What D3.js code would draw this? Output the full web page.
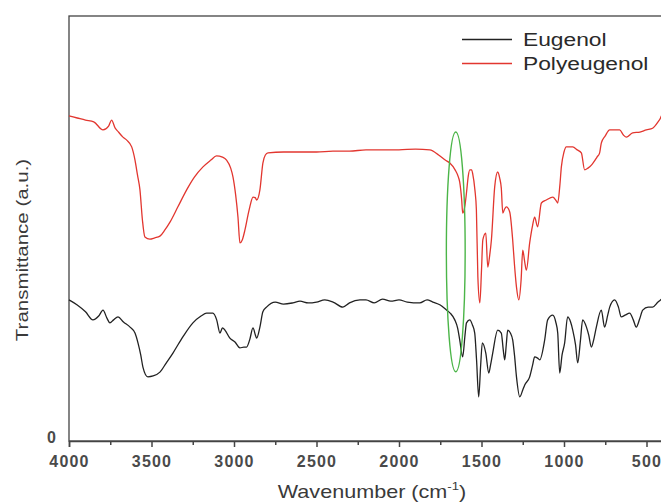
<!DOCTYPE html>
<html>
<head>
<meta charset="utf-8">
<script src="https://cdnjs.cloudflare.com/ajax/libs/d3/7.8.5/d3.min.js"></script>
<style>
  html, body { margin: 0; padding: 0; background: #fff; }
  svg { display: block; font-family: "Liberation Sans", Arial, sans-serif; }
</style>
</head>
<body>
<div id="chart"></div>
<script>
// FTIR spectra, wavenumber (cm-1) vs transmittance (arbitrary units)
const eugenolWave = [4000, 3950, 3900, 3855, 3820, 3794, 3770, 3752, 3730, 3703, 3670, 3630, 3600, 3582, 3565, 3552, 3522, 3490, 3449, 3410, 3370, 3310, 3249, 3200, 3166, 3128, 3105, 3085, 3070, 3055, 3025, 2994, 2964, 2940, 2924, 2905, 2885, 2870, 2863, 2843, 2825, 2803, 2750, 2700, 2643, 2600, 2550, 2500, 2450, 2400, 2340, 2300, 2237, 2200, 2150, 2100, 2050, 2000, 1950, 1874, 1830, 1795, 1750, 1712, 1690, 1662, 1645, 1632, 1614, 1600, 1591, 1571, 1555, 1541, 1530, 1517, 1505, 1495, 1474, 1456, 1445, 1432, 1402, 1380, 1368, 1359, 1350, 1341, 1325, 1311, 1300, 1288, 1268, 1250, 1238, 1208, 1190, 1178, 1160, 1147, 1117, 1099, 1068, 1050, 1038, 1026, 1012, 996, 978, 960, 947, 930, 917, 900, 887, 864, 850, 834, 820, 804, 774, 754, 735, 723, 693, 670, 653, 630, 602, 580, 562, 540, 523, 490, 463, 430, 415, 400];
const eugenolT = [33.2, 32.0, 30.4, 28.5, 29.4, 30.8, 28.9, 27.8, 28.5, 29.2, 28.0, 26.8, 25.4, 23.1, 20.2, 17.4, 15.1, 15.3, 16.2, 18.4, 20.7, 24.5, 27.8, 29.4, 30.1, 30.1, 28.5, 25.4, 26.6, 26.1, 24.2, 23.3, 21.9, 22.1, 22.1, 23.8, 26.6, 24.9, 24.2, 26.8, 30.4, 31.5, 32.7, 32.2, 32.5, 32.9, 32.5, 32.7, 33.2, 32.7, 31.5, 32.5, 33.2, 33.2, 32.5, 33.4, 32.9, 33.2, 32.7, 32.5, 33.2, 32.7, 32.0, 30.8, 30.1, 28.5, 26.6, 23.8, 19.8, 24.9, 27.8, 28.5, 27.3, 25.4, 19.1, 10.4, 17.9, 23.1, 20.7, 16.0, 17.9, 20.7, 26.1, 25.4, 21.4, 19.1, 22.6, 26.1, 25.4, 23.8, 20.2, 15.1, 10.4, 12.0, 13.2, 15.1, 17.9, 19.8, 19.5, 19.1, 23.8, 28.5, 29.6, 28.0, 25.4, 16.0, 20.2, 23.1, 29.2, 28.0, 26.1, 22.6, 18.4, 23.8, 28.5, 26.8, 24.9, 22.1, 23.8, 26.8, 30.8, 26.8, 29.6, 31.5, 33.2, 31.5, 29.2, 29.6, 30.1, 28.5, 26.8, 28.9, 30.8, 31.5, 31.5, 32.7, 33.2, 33.6];

const polyWave = [4000, 3950, 3900, 3850, 3794, 3760, 3742, 3720, 3700, 3673, 3650, 3620, 3600, 3585, 3570, 3555, 3540, 3510, 3480, 3449, 3420, 3388, 3340, 3287, 3240, 3188, 3140, 3106, 3070, 3045, 3020, 3006, 2990, 2976, 2964, 2950, 2934, 2915, 2904, 2885, 2870, 2863, 2843, 2825, 2810, 2794, 2700, 2600, 2500, 2400, 2300, 2200, 2100, 2000, 1900, 1813, 1760, 1720, 1692, 1660, 1640, 1632, 1620, 1614, 1600, 1591, 1580, 1571, 1560, 1553, 1540, 1531, 1522, 1510, 1500, 1492, 1474, 1462, 1450, 1440, 1420, 1402, 1390, 1380, 1371, 1360, 1349, 1329, 1311, 1300, 1288, 1274, 1260, 1250, 1238, 1228, 1208, 1190, 1178, 1160, 1137, 1107, 1068, 1050, 1038, 1025, 1016, 1000, 986, 947, 920, 895, 875, 855, 834, 800, 784, 774, 750, 723, 663, 640, 622, 584, 540, 501, 463, 430, 415, 400];
const polyT = [76.5, 76.0, 75.5, 75.1, 73.2, 74.1, 75.5, 73.6, 72.7, 71.5, 70.8, 69.2, 66.1, 62.6, 59.1, 52.0, 48.0, 47.5, 47.8, 48.2, 49.6, 51.5, 55.1, 59.1, 62.1, 64.5, 66.1, 67.1, 66.8, 66.1, 64.2, 62.1, 57.9, 52.7, 46.6, 47.3, 49.6, 53.2, 55.1, 57.4, 57.2, 56.7, 59.1, 65.4, 67.3, 67.8, 68.0, 68.0, 68.0, 68.2, 68.2, 68.5, 68.5, 68.5, 68.7, 68.5, 67.3, 66.1, 65.4, 63.8, 62.1, 60.9, 56.7, 53.6, 55.5, 58.4, 62.4, 63.8, 63.8, 62.8, 59.1, 54.4, 38.6, 32.5, 40.2, 47.3, 48.9, 40.9, 43.8, 47.3, 59.8, 63.3, 61.9, 59.5, 53.6, 54.6, 55.1, 53.9, 47.3, 41.4, 36.2, 33.2, 37.9, 44.9, 42.1, 40.2, 46.6, 50.8, 52.7, 50.4, 56.0, 56.7, 57.4, 56.7, 56.0, 60.2, 64.5, 68.0, 69.2, 69.2, 68.5, 67.8, 63.8, 64.2, 64.9, 66.8, 67.8, 70.1, 71.8, 73.2, 73.2, 72.0, 71.5, 72.5, 72.7, 73.2, 73.6, 75.1, 76.0, 77.4];

const seriesNames = ["Eugenol", "Polyeugenol"];
const seriesColors = ["#222222", "#e2362f"];
const majorTicks = [4000, 3500, 3000, 2500, 2000, 1500, 1000, 500];
const minorTicks = [3750, 3250, 2750, 2250, 1750, 1250, 750];

// highlighted band around the C=C stretch
const markCenter = [1656, 44.5];
const markRadius = [57, 28.2];

const width = 661, height = 504;
const margin = { top: 16, right: -2, bottom: 63, left: 69 };

const svg = d3.select("#chart").append("svg")
  .attr("width", width)
  .attr("height", height);

const x = d3.scaleLinear()
  .domain([4000, 400])
  .range([margin.left, width - margin.right]);

const y = d3.scaleLinear()
  .domain([0, 100])
  .range([height - margin.bottom, margin.top]);

// frame
svg.append("rect")
  .attr("x", x(4000))
  .attr("y", y(100))
  .attr("width", x(400) - x(4000))
  .attr("height", y(0) - y(100))
  .attr("fill", "none")
  .attr("stroke", "#444")
  .attr("stroke-width", 1.3);

// x axis: major and minor ticks
const xAxis = svg.append("g")
  .attr("transform", `translate(0,${y(0)})`)
  .call(d3.axisBottom(x).tickValues(majorTicks).tickSize(6).tickPadding(9).tickFormat(d3.format("d")));
xAxis.select(".domain").attr("stroke", "#444").attr("stroke-width", 1.5);
xAxis.selectAll(".tick line").attr("stroke", "#444").attr("stroke-width", 1.5);
xAxis.selectAll(".tick text")
  .attr("fill", "#4a4a4a")
  .attr("font-size", 16)
  .attr("font-weight", "bold")
  .attr("letter-spacing", 1.2);

const xMinor = svg.append("g")
  .attr("transform", `translate(0,${y(0)})`)
  .call(d3.axisBottom(x).tickValues(minorTicks).tickSize(4).tickFormat(""));
xMinor.select(".domain").remove();
xMinor.selectAll(".tick line").attr("stroke", "#444").attr("stroke-width", 1.5);

// y axis: only zero is labelled
const yAxis = svg.append("g")
  .attr("transform", `translate(${x(4000)},0)`)
  .call(d3.axisLeft(y).tickValues([0]).tickSize(0).tickPadding(13));
yAxis.select(".domain").remove();
yAxis.selectAll(".tick text")
  .attr("fill", "#4a4a4a")
  .attr("font-size", 16)
  .attr("font-weight", "bold")
  .attr("dy", "0.1em");

// spectra
const line = d3.line()
  .x(d => x(d[0]))
  .y(d => y(d[1]))
  .curve(d3.curveMonotoneX);

const series = [
  d3.zip(eugenolWave, eugenolT),
  d3.zip(polyWave, polyT)
];

svg.append("g")
  .selectAll("path")
  .data(series)
  .join("path")
  .attr("fill", "none")
  .attr("stroke", (d, i) => seriesColors[i])
  .attr("stroke-width", 1.3)
  .attr("stroke-linejoin", "round")
  .attr("d", line);

// green ellipse
svg.append("ellipse")
  .attr("cx", x(markCenter[0]))
  .attr("cy", y(markCenter[1]))
  .attr("rx", Math.abs(x(markCenter[0] + markRadius[0]) - x(markCenter[0])))
  .attr("ry", Math.abs(y(markCenter[1] + markRadius[1]) - y(markCenter[1])))
  .attr("fill", "none")
  .attr("stroke", "#4bb548")
  .attr("stroke-width", 1.4);

// legend
const legend = svg.append("g")
  .selectAll("g")
  .data(seriesNames)
  .join("g")
  .attr("transform", (d, i) => `translate(462,${39.5 + i * 24})`);

legend.append("line")
  .attr("x1", 0).attr("x2", 50)
  .attr("stroke", (d, i) => seriesColors[i])
  .attr("stroke-width", 1.4);

legend.append("text")
  .attr("transform", "translate(61,6.5) scale(1.2,1)")
  .attr("font-size", 19)
  .attr("fill", "#2a2a2a")
  .text(d => d);

// axis titles
const xTitle = svg.append("text")
  .attr("transform", `translate(${(x(4000) + x(400)) / 2 + 6},498) scale(1.2,1)`)
  .attr("text-anchor", "middle")
  .attr("font-size", 18)
  .attr("fill", "#3a3a3a");
xTitle.append("tspan").text("Wavenumber (cm");
xTitle.append("tspan").attr("font-size", 11).attr("dy", -8).text("-1");
xTitle.append("tspan").attr("dy", 8).text(")");

svg.append("text")
  .attr("transform", "translate(28,250) rotate(-90) scale(1.28,1)")
  .attr("text-anchor", "middle")
  .attr("font-size", 16)
  .attr("fill", "#3a3a3a")
  .text("Transmittance (a.u.)");
</script>
</body>
</html>
